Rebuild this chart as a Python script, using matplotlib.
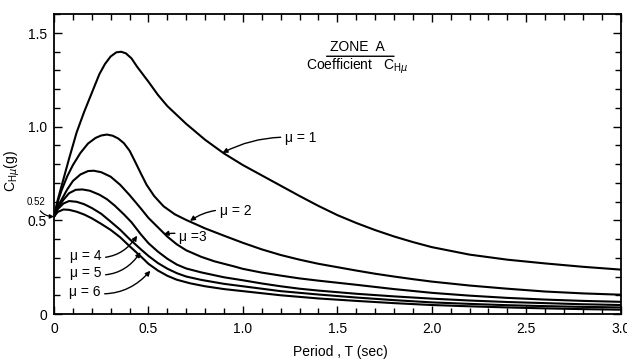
import matplotlib
matplotlib.use("Agg")
import matplotlib.pyplot as plt
from matplotlib.ticker import MultipleLocator, FixedLocator, FixedFormatter

plt.rcParams['font.family'] = ['Liberation Sans', 'DejaVu Sans']
plt.rcParams['mathtext.fontset'] = 'custom'
plt.rcParams['mathtext.rm'] = 'Liberation Sans'

# ---- data ----
T_mu1 = [0.00, 0.02, 0.05, 0.08, 0.12, 0.16, 0.20, 0.24, 0.27, 0.30, 0.33, 0.355,
         0.38, 0.41, 0.44, 0.47, 0.50, 0.55, 0.60, 0.70, 0.80, 0.90, 1.00, 1.10,
         1.20, 1.30, 1.40, 1.50, 1.60, 1.70, 1.80, 1.90, 2.00, 2.20, 2.40, 2.60,
         2.80, 3.00]
C_mu1 = [0.52, 0.61, 0.72, 0.83, 0.97, 1.08, 1.18, 1.28, 1.335, 1.375, 1.397, 1.40,
         1.392, 1.365, 1.32, 1.28, 1.24, 1.17, 1.11, 1.015, 0.93, 0.857, 0.795, 0.74,
         0.685, 0.63, 0.577, 0.528, 0.486, 0.448, 0.414, 0.384, 0.357, 0.317, 0.29, 0.27,
         0.252, 0.237]

T_mu2 = [0.00, 0.02, 0.04, 0.07, 0.10, 0.14, 0.18, 0.22, 0.25, 0.28, 0.31, 0.34,
         0.37, 0.40, 0.43, 0.46, 0.49, 0.53, 0.58, 0.64, 0.70, 0.80, 0.90, 1.00,
         1.10, 1.20, 1.30, 1.40, 1.50, 1.60, 1.70, 1.80, 1.90, 2.00, 2.20, 2.40,
         2.60, 2.80, 3.00]
C_mu2 = [0.52, 0.60, 0.66, 0.735, 0.795, 0.86, 0.91, 0.94, 0.953, 0.958, 0.952, 0.937,
         0.912, 0.872, 0.812, 0.75, 0.69, 0.63, 0.575, 0.532, 0.502, 0.457, 0.418, 0.38,
         0.345, 0.315, 0.29, 0.268, 0.25, 0.232, 0.215, 0.20, 0.186, 0.173, 0.152, 0.135,
         0.12, 0.11, 0.103]

T_mu3 = [0.00, 0.02, 0.04, 0.07, 0.10, 0.14, 0.18, 0.21, 0.25, 0.30, 0.35, 0.40,
         0.46, 0.50, 0.55, 0.60, 0.65, 0.70, 0.78, 0.85, 0.95, 1.00, 1.10, 1.20,
         1.30, 1.40, 1.50, 1.60, 1.80, 2.00, 2.20, 2.40, 2.60, 2.80, 3.00]
C_mu3 = [0.52, 0.575, 0.61, 0.665, 0.71, 0.745, 0.763, 0.765, 0.757, 0.733, 0.69, 0.635,
         0.563, 0.513, 0.463, 0.413, 0.372, 0.34, 0.305, 0.281, 0.255, 0.241, 0.221, 0.205,
         0.19, 0.178, 0.167, 0.156, 0.133, 0.113, 0.098, 0.086, 0.077, 0.07, 0.065]

T_mu4 = [0.00, 0.02, 0.05, 0.08, 0.115, 0.15, 0.19, 0.24, 0.28, 0.32, 0.37, 0.41,
         0.46, 0.50, 0.55, 0.60, 0.65, 0.70, 0.78, 0.90, 1.00, 1.10, 1.20, 1.30,
         1.40, 1.60, 1.80, 2.00, 2.20, 2.40, 2.60, 2.80, 3.00]
C_mu4 = [0.52, 0.565, 0.61, 0.645, 0.663, 0.665, 0.658, 0.637, 0.613, 0.58, 0.532, 0.49,
         0.425, 0.378, 0.333, 0.295, 0.264, 0.243, 0.222, 0.196, 0.18, 0.163, 0.148, 0.135,
         0.125, 0.108, 0.094, 0.082, 0.072, 0.064, 0.058, 0.052, 0.048]

T_mu5 = [0.00, 0.02, 0.05, 0.08, 0.12, 0.16, 0.20, 0.25, 0.30, 0.35, 0.40, 0.46,
         0.50, 0.55, 0.60, 0.65, 0.70, 0.78, 0.90, 1.00, 1.20, 1.40, 1.60, 1.80,
         2.00, 2.20, 2.40, 2.60, 2.80, 3.00]
C_mu5 = [0.52, 0.56, 0.59, 0.603, 0.599, 0.586, 0.566, 0.535, 0.493, 0.45, 0.40, 0.345,
         0.31, 0.272, 0.242, 0.218, 0.2, 0.182, 0.161, 0.148, 0.122, 0.104, 0.088, 0.074,
         0.062, 0.054, 0.047, 0.042, 0.038, 0.035]

T_mu6 = [0.00, 0.02, 0.05, 0.08, 0.12, 0.16, 0.20, 0.25, 0.30, 0.35, 0.40, 0.46,
         0.50, 0.55, 0.60, 0.65, 0.72, 0.80, 0.90, 1.00, 1.20, 1.40, 1.60, 1.80,
         2.00, 2.20, 2.40, 2.60, 2.80, 3.00]
C_mu6 = [0.52, 0.545, 0.558, 0.556, 0.546, 0.531, 0.511, 0.481, 0.449, 0.41, 0.362, 0.307,
         0.268, 0.232, 0.204, 0.183, 0.164, 0.148, 0.133, 0.122, 0.10, 0.083, 0.07, 0.058,
         0.048, 0.041, 0.035, 0.03, 0.026, 0.023]

curves = [(T_mu1, C_mu1), (T_mu2, C_mu2), (T_mu3, C_mu3),
          (T_mu4, C_mu4), (T_mu5, C_mu5), (T_mu6, C_mu6)]

curve_labels = ["μ = 1", "μ = 2", "μ =3", "μ = 4", "μ = 5", "μ = 6"]
label_text_pos = [(1.305, 0.94), (0.96, 0.552), (0.735, 0.411),
                  (0.168, 0.31), (0.168, 0.219), (0.163, 0.119)]
label_tip_pos = [(0.892, 0.86), (0.72, 0.497), (0.58, 0.425),
                 (0.44, 0.418), (0.458, 0.33), (0.51, 0.231)]
label_rad = [0.15, 0.2, 0.15, 0.35, 0.35, 0.3]

x_tick_values = [0, 0.5, 1.0, 1.5, 2.0, 2.5, 3.0]
x_tick_labels = ["0", "0.5", "1.0", "1.5", "2.0", "2.5", "3.0"]
y_tick_values = [0, 0.5, 1.0, 1.5]
y_tick_labels = ["0", "0.5", "1.0", "1.5"]
start_value = 0.52

# ---- figure ----
fig = plt.figure(figsize=(6.27, 3.6), dpi=100)
ax = fig.add_axes([54 / 627, (360 - 314) / 360, (620.7 - 54) / 627, (314 - 14.3) / 360])

for T, C in curves:
    ax.plot(T, C, color='black', lw=1.5, solid_joinstyle='round', solid_capstyle='round')

ax.set_xlim(0, 3.0)
ax.set_ylim(0, 1.6)

ax.xaxis.set_major_locator(FixedLocator(x_tick_values))
ax.xaxis.set_major_formatter(FixedFormatter(x_tick_labels))
ax.yaxis.set_major_locator(FixedLocator(y_tick_values))
ax.yaxis.set_major_formatter(FixedFormatter(y_tick_labels))
ax.xaxis.set_minor_locator(MultipleLocator(0.1))
ax.yaxis.set_minor_locator(MultipleLocator(0.1))

ax.tick_params(which='both', direction='in', top=True, right=True, width=1.0,
               labelsize=10, colors='black')
ax.tick_params(which='major', length=6)
ax.tick_params(which='minor', length=4)
ax.tick_params(axis='y', pad=5)
ax.tick_params(axis='x', pad=6)
for s in ax.spines.values():
    s.set_linewidth(1.3)

ax.set_xlabel("Period , T (sec)", fontsize=10)
ax.xaxis.set_label_coords(0.505, -0.105)
ax.set_ylabel(r"C$_{\mathrm{H}\mu}$(g)", fontsize=10)
ax.yaxis.set_label_coords(-0.056, 0.476)

# curve labels with leader arrows
for lab, tp, tip, rad in zip(curve_labels, label_text_pos, label_tip_pos, label_rad):
    ax.annotate(lab, xy=tip, xytext=tp, fontsize=10, ha='center', va='center',
                arrowprops=dict(arrowstyle='-|>', color='black', lw=1.0,
                                mutation_scale=7, shrinkA=1, shrinkB=0,
                                connectionstyle=f"arc3,rad={rad}"))

# 0.52 marker at the axis
ax.annotate(f"{start_value:.2f}", xy=(0, start_value), xytext=(-0.093, 0.598),
            fontsize=7, ha='center', va='center', annotation_clip=False,
            arrowprops=dict(arrowstyle='-|>', color='black', lw=0.9,
                            mutation_scale=6, shrinkA=1, shrinkB=0,
                            connectionstyle="arc3,rad=0.4"))

# title block
ax.text(0.535, 0.892, "ZONE  A", transform=ax.transAxes, fontsize=10,
        ha='center', va='center')
ax.annotate('', xy=(0.600, 0.860), xytext=(0.481, 0.860), xycoords='axes fraction',
            arrowprops=dict(arrowstyle='-', color='black', lw=1.0, shrinkA=0, shrinkB=0))
ax.text(0.535, 0.826, r"Coefficient   C$_{\mathrm{H}\mu}$", transform=ax.transAxes,
        fontsize=10, ha='center', va='center')

fig.savefig("out.png", dpi=100)
